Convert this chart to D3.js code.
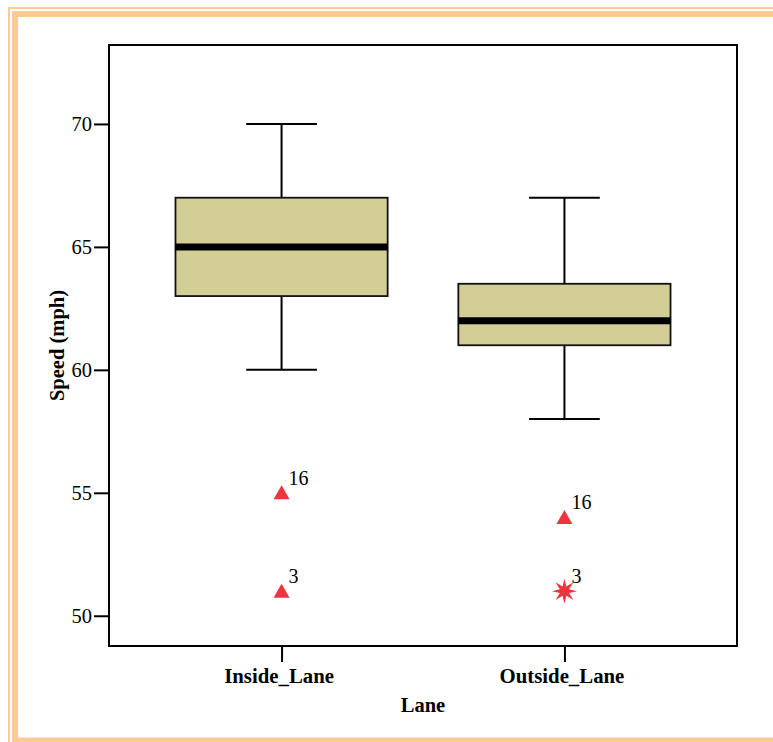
<!DOCTYPE html>
<html><head><meta charset="utf-8">
<script src="https://d3js.org/d3.v7.min.js"></script>
<style>body{margin:0;background:#fff}svg{display:block}</style>
</head><body>
<script>
const categories = ["Inside_Lane", "Outside_Lane"];
const whiskerLow = [60, 58];
const q1 = [63, 61];
const medians = [65, 62];
const q3 = [67, 63.5];
const whiskerHigh = [70, 67];
const outlierCat = ["Inside_Lane", "Inside_Lane", "Outside_Lane", "Outside_Lane"];
const outlierVal = [55, 51, 54, 51];
const outlierId = ["16", "3", "16", "3"];
const outlierType = ["outlier", "outlier", "outlier", "extreme"];
const yTicks = [50, 55, 60, 65, 70];

const W = 773, H = 742;
const svg = d3.select("body").append("svg").attr("width", W).attr("height", H);

// decorative frame
svg.append("rect").attr("x", 9).attr("y", 8).attr("width", W + 20).attr("height", 745 - 8)
  .attr("fill", "none").attr("stroke", "#fdc994").attr("stroke-width", 2);
svg.append("rect").attr("x", 15).attr("y", 14).attr("width", W + 20).attr("height", 740.5 - 14)
  .attr("fill", "none").attr("stroke", "#fdc994").attr("stroke-width", 6);

const L = 109, R = 737, T = 45, B = 646;
const y = d3.scaleLinear().domain([48.77, 73.21]).range([B, T]);
const x = d3.scalePoint().domain(categories).range([L, R]).padding(0.61);
const step = x.step();
const boxW = step * 0.75, capW = boxW / 3;

const font = "'Liberation Serif','Times New Roman',serif";

// plot frame
svg.append("rect").attr("x", L).attr("y", T).attr("width", R - L).attr("height", B - T)
  .attr("fill", "none").attr("stroke", "#000").attr("stroke-width", 2);

// y axis
const yAxis = svg.append("g").attr("transform", `translate(${L},0)`)
  .call(d3.axisLeft(y).tickValues(yTicks).tickSize(15).tickPadding(2).tickFormat(d3.format("d")));
yAxis.select(".domain").remove();
yAxis.selectAll("line").attr("stroke", "#000").attr("stroke-width", 2);
yAxis.selectAll("text").attr("font-family", font).attr("font-size", 20.5).attr("fill", "#000");

// x axis
const xAxis = svg.append("g").attr("transform", `translate(0,${B})`)
  .call(d3.axisBottom(x).tickSize(16).tickPadding(6));
xAxis.select(".domain").remove();
xAxis.selectAll("line").attr("stroke", "#000").attr("stroke-width", 2);
xAxis.selectAll("text").attr("font-family", font).attr("font-size", 20.8)
  .attr("font-weight", "bold").attr("fill", "#000").attr("dx", -3);

// axis titles
svg.append("text").attr("x", (L + R) / 2).attr("y", 712).attr("text-anchor", "middle")
  .attr("font-family", font).attr("font-size", 20.5).attr("font-weight", "bold").text("Lane");
svg.append("text").attr("transform", `translate(64,${(T + B) / 2}) rotate(-90)`)
  .attr("text-anchor", "middle").attr("font-family", font).attr("font-size", 20.5)
  .attr("font-weight", "bold").text("Speed (mph)");

// boxes
const g = svg.append("g");
categories.forEach((c, i) => {
  const cx = x(c);
  const bg = g.append("g");
  bg.append("line").attr("x1", cx).attr("x2", cx).attr("y1", y(whiskerHigh[i])).attr("y2", y(q3[i]))
    .attr("stroke", "#000").attr("stroke-width", 2);
  bg.append("line").attr("x1", cx).attr("x2", cx).attr("y1", y(q1[i])).attr("y2", y(whiskerLow[i]))
    .attr("stroke", "#000").attr("stroke-width", 2);
  bg.append("line").attr("x1", cx - capW / 2).attr("x2", cx + capW / 2).attr("y1", y(whiskerHigh[i])).attr("y2", y(whiskerHigh[i]))
    .attr("stroke", "#000").attr("stroke-width", 2);
  bg.append("line").attr("x1", cx - capW / 2).attr("x2", cx + capW / 2).attr("y1", y(whiskerLow[i])).attr("y2", y(whiskerLow[i]))
    .attr("stroke", "#000").attr("stroke-width", 2);
  bg.append("rect").attr("x", cx - boxW / 2).attr("y", y(q3[i])).attr("width", boxW)
    .attr("height", y(q1[i]) - y(q3[i])).attr("fill", "#d3cd96").attr("stroke", "#111").attr("stroke-width", 1.8);
  bg.append("line").attr("x1", cx - boxW / 2).attr("x2", cx + boxW / 2).attr("y1", y(medians[i])).attr("y2", y(medians[i]))
    .attr("stroke", "#000").attr("stroke-width", 7);
});

// outliers
const red = "#ee343f";
const starPts = [];
for (let k = 0; k < 16; k++) {
  const r = k % 2 === 0 ? 12.5 : 5;
  const a = k * Math.PI / 8 - Math.PI / 2;
  starPts.push([r * Math.cos(a), r * Math.sin(a)]);
}
const starPath = "M" + starPts.map(p => p.join(",")).join("L") + "Z";
const triPath = "M0,-7.5L8,6.5L-8,6.5Z";
outlierVal.forEach((v, i) => {
  const cx = x(outlierCat[i]), cy = y(v);
  svg.append("path").attr("transform", `translate(${cx},${cy})`)
    .attr("d", outlierType[i] === "extreme" ? starPath : triPath).attr("fill", red);
  svg.append("text").attr("x", cx + 7).attr("y", cy - 8).attr("font-family", font)
    .attr("font-size", 20).attr("fill", "#000").text(outlierId[i]);
});
</script>
</body></html>
